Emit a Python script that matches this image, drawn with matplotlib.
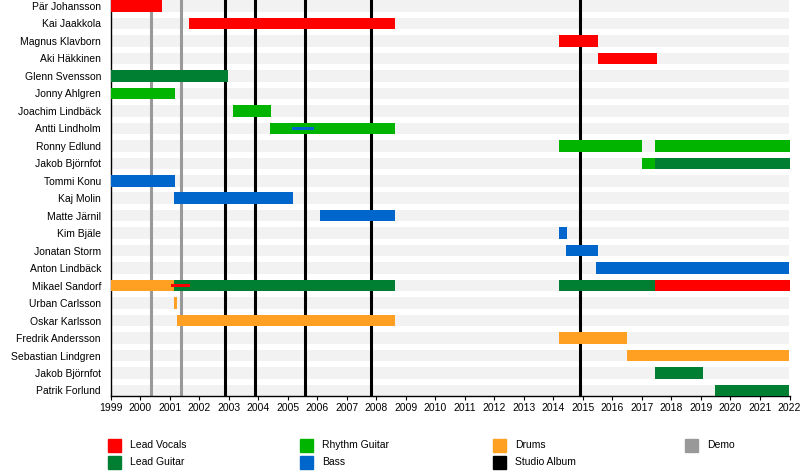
import matplotlib.pyplot as plt
from matplotlib.patches import Rectangle

plt.rcParams["font.family"] = ["Liberation Sans", "DejaVu Sans"]
plt.rcParams["font.size"] = 7.5

# band members, top to bottom
members = [
    "Pär Johansson", "Kai Jaakkola", "Magnus Klavborn", "Aki Häkkinen",
    "Glenn Svensson", "Jonny Ahlgren", "Joachim Lindbäck", "Antti Lindholm",
    "Ronny Edlund", "Jakob Björnfot", "Tommi Konu", "Kaj Molin",
    "Matte Järnil", "Kim Bjäle", "Jonatan Storm", "Anton Lindbäck",
    "Mikael Sandorf", "Urban Carlsson", "Oskar Karlsson", "Fredrik Andersson",
    "Sebastian Lindgren", "Jakob Björnfot", "Patrik Forlund",
]

# main membership bars: row index, start, end, role
seg_row = [0, 1, 2, 3, 4, 5, 6, 7, 8, 8, 9, 9, 10, 11, 12, 13, 14, 15,
           16, 16, 16, 16, 17, 18, 19, 20, 21, 22]
seg_start = [1999.0, 2001.65, 2014.18, 2015.5, 1999.0, 1999.0, 2003.15, 2004.4,
             2014.2, 2017.45, 2017.0, 2017.45, 1999.0, 2001.15, 2006.1, 2014.2,
             2014.43, 2015.46, 1999.0, 2001.15, 2014.2, 2017.45, 2001.15,
             2001.25, 2014.2, 2016.5, 2017.45, 2019.48]
seg_end = [2000.73, 2008.64, 2015.5, 2017.5, 2002.97, 2001.18, 2004.43, 2008.64,
           2017.0, 2022.0, 2017.45, 2022.0, 2001.18, 2005.18, 2008.64, 2014.46,
           2015.5, 2022.0, 2001.15, 2008.64, 2017.45, 2022.0, 2001.25,
           2008.64, 2016.5, 2022.0, 2019.08, 2022.0]
seg_role = ["vocals", "vocals", "vocals", "vocals", "lead", "rhythm", "rhythm",
            "rhythm", "rhythm", "rhythm", "rhythm", "lead", "bass", "bass",
            "bass", "bass", "bass", "bass", "drums", "lead", "lead", "vocals",
            "drums", "drums", "drums", "drums", "lead", "lead"]

# secondary (thin) role lines
thin_row = [7, 16]
thin_start = [2005.13, 2001.04]
thin_end = [2005.9, 2001.69]
thin_role = ["bass", "vocals"]

demo_years = [2000.37, 2001.38]
album_years = [2002.87, 2003.89, 2005.58, 2007.83, 2014.9]

colors = {
    "vocals": "#ff0000",
    "lead": "#007f33",
    "rhythm": "#00b400",
    "bass": "#0066cc",
    "drums": "#ffa022",
}
legend_labels = ["Lead Vocals", "Lead Guitar", "Rhythm Guitar", "Bass",
                 "Drums", "Studio Album", "Demo"]
legend_colors = [colors["vocals"], colors["lead"], colors["rhythm"],
                 colors["bass"], colors["drums"], "#000000", "#999999"]

W, H = 800, 476
fig = plt.figure(figsize=(W / 100, H / 100), dpi=100)
ax = fig.add_axes([110.7 / W, (H - 395.7) / H, (789.5 - 110.7) / W, 395.7 / H])

bar_h = 0.66
rows = list(range(len(members)))
ax.barh(rows, [2022 - 1999] * len(rows), left=1999, height=bar_h,
        color="#f2f2f2", zorder=1)

for y in demo_years:
    ax.axvline(y, color="#999999", lw=2.2, zorder=2)
for y in album_years:
    ax.axvline(y, color="black", lw=2.2, zorder=2)

ax.barh(seg_row, [e - s for s, e in zip(seg_start, seg_end)], left=seg_start,
        height=bar_h, color=[colors[r] for r in seg_role], zorder=3)
ax.barh(thin_row, [e - s for s, e in zip(thin_start, thin_end)], left=thin_start,
        height=0.17, color=[colors[r] for r in thin_role], zorder=4)

ax.set_xlim(1999, 2022)
ax.set_ylim(22.3, -0.343)
ax.set_xticks(range(1999, 2023))
ax.set_yticks(rows)
ax.set_yticklabels(members)
ax.tick_params(axis="y", length=0, pad=7)
ax.tick_params(axis="x", length=3, pad=2)
for side in ("top", "right"):
    ax.spines[side].set_visible(False)
for side in ("left", "bottom"):
    ax.spines[side].set_linewidth(1)

# legend, column-major in four columns
col_x = [108, 300, 493, 685]
row_y = [445, 462]
for i, (lab, col) in enumerate(zip(legend_labels, legend_colors)):
    cx = col_x[i // 2]
    cy = row_y[i % 2]
    fig.add_artist(Rectangle((cx / W, (H - cy - 6.5) / H), 13 / W, 13 / H,
                             color=col, transform=fig.transFigure))
    fig.text((cx + 22) / W, (H - cy) / H, lab, va="center", ha="left")

fig.savefig("out.png", dpi=100)
